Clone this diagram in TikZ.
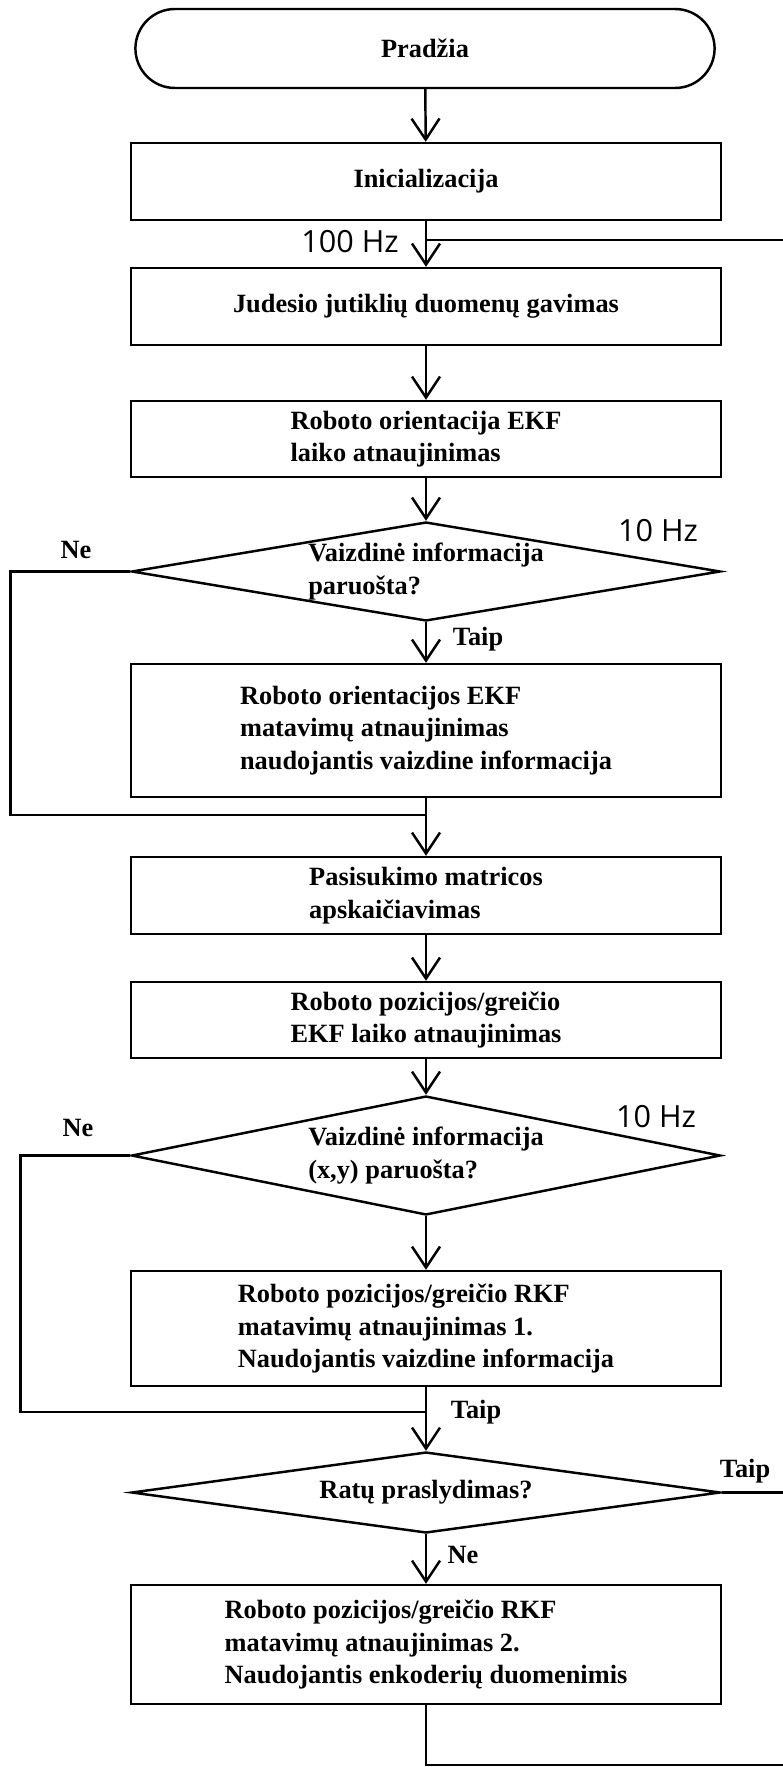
\documentclass[tikz,border=0pt]{standalone}
\usepackage{fontspec}
\setmainfont{Liberation Serif}
\newfontfamily\hzfont{Open Sans}
\usepackage{tikz}
\usetikzlibrary{arrows.meta,shapes.geometric,shapes.misc,positioning}

\begin{document}
\begin{tikzpicture}[
    x=0.02cm, y=-0.02cm,
    proc/.style={draw, line width=1.4pt, minimum width=11.8cm, inner sep=0pt, align=left, font=\fontsize{15}{18.5}\selectfont\bfseries},
    term/.style={draw, line width=1.4pt, rounded rectangle, minimum width=11.82cm, minimum height=1.58cm, font=\fontsize{15}{18.5}\selectfont\bfseries},
    dec/.style={draw, line width=1.4pt, diamond, shape aspect=6, minimum width=11.78cm, inner sep=0pt, align=left, font=\fontsize{15}{18.5}\selectfont\bfseries},
    ln/.style={line width=1.4pt},
    arr/.style={line width=1.4pt, -{Straight Barb[length=0.42cm, width=0.56cm]}},
    lbl/.style={font=\fontsize{15}{18.5}\selectfont\bfseries, inner sep=0pt},
    hz/.style={font=\hzfont\fontsize{17.4}{20}\selectfont, inner sep=0pt}
]
\useasboundingbox (0,0) rectangle (783,1767);

\node[term] (start) at (425,48.5) {Pradžia};
\node[proc, minimum height=1.54cm] (init) at (426,181.5) {Inicializacija};
\node[proc, minimum height=1.54cm] (sens) at (426,306.5) {Judesio jutiklių duomenų gavimas};
\node[proc, minimum height=1.52cm] (orient) at (426,439) {Roboto orientacija EKF\\laiko atnaujinimas};
\node[dec, minimum height=1.98cm] (vis1) at (426,571.5) {Vaizdinė informacija\\paruošta?};
\node[proc, minimum height=2.66cm] (visupd) at (426,730.5) {Roboto orientacijos EKF\\matavimų atnaujinimas\\naudojantis vaizdine informacija};
\node[proc, minimum height=1.54cm] (rot) at (426,895.5) {Pasisukimo matricos\\apskaičiavimas};
\node[proc, minimum height=1.52cm] (posekf) at (426,1020) {Roboto pozicijos/greičio\\EKF laiko atnaujinimas};
\node[dec, minimum height=2.38cm] (vis2) at (426,1155.5) {Vaizdinė informacija\\(x,y) paruošta?};
\node[proc, minimum height=2.30cm] (rkf1) at (426,1328.5) {Roboto pozicijos/greičio RKF\\matavimų atnaujinimas 1.\\Naudojantis vaizdine informacija};
\node[dec, minimum height=1.62cm] (slip) at (426,1492.5) {Ratų praslydimas?};
\node[proc, minimum height=2.38cm] (rkf2) at (426,1644.5) {Roboto pozicijos/greičio RKF\\matavimų atnaujinimas 2.\\Naudojantis enkoderių duomenimis};

\coordinate (rin) at (426,240);
\coordinate (rout) at (783,240);
\coordinate (j1) at (426,815);
\coordinate (j2) at (426,1412);
\coordinate (sout) at (783,1492.5);
\coordinate (bout) at (783,1765);

\node[hz] (hz100) at (350,242) {100 Hz};
\node[hz] (hz10a) at (658,531) {10 Hz};
\node[hz] (hz10b) at (656,1117) {10 Hz};
\node[lbl] (ne1) at (76,550) {Ne};
\node[lbl] (ne2) at (78,1128) {Ne};
\node[lbl] (taip1) at (478,639) {Taip};
\node[lbl] (taip2) at (476,1412) {Taip};
\node[lbl] (taip3) at (745,1471) {Taip};
\node[lbl] (ne3) at (463,1555) {Ne};

\draw[arr] (start) -- (init);
\draw[arr] (init) -- (sens);
\draw[ln] (rout) -- (rin);
\draw[arr] (sens) -- (orient);
\draw[arr] (orient) -- (vis1);
\draw[arr] (vis1) -- (visupd);
\draw[ln] (vis1.west) -- ++(-120,0) |- (j1);
\draw[ln] (visupd) -- (j1);
\draw[arr] (j1) -- (rot);
\draw[arr] (rot) -- (posekf);
\draw[arr] (posekf) -- (vis2);
\draw[arr] (vis2) -- (rkf1);
\draw[ln] (vis2.west) -- ++(-110,0) |- (j2);
\draw[ln] (rkf1) -- (j2);
\draw[arr] (j2) -- (slip);
\draw[ln] (slip.east) -- (sout);
\draw[arr] (slip) -- (rkf2);
\draw[ln] (rkf2.south) |- (bout);
\end{tikzpicture}
\end{document}
